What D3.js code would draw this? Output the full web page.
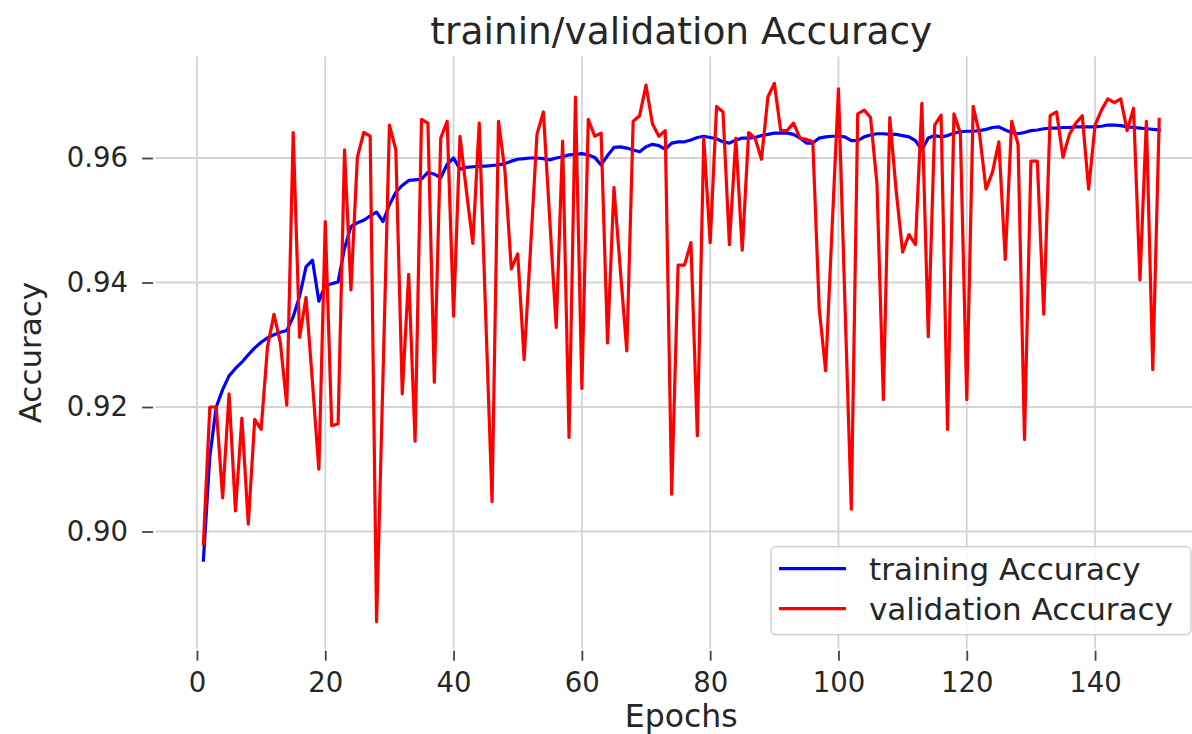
<!DOCTYPE html>
<html>
  <head>
    <meta charset="utf-8" />
    <title>trainin/validation Accuracy</title>
    <script src="https://d3js.org/d3.v7.min.js"></script>
    <style>

      body {
        margin: 0;
        background: #fff;
      }

      svg {
        display: block;
        font-family: "DejaVu Sans", sans-serif;
      }

    </style>
  </head>
  <body>

    <svg id="chart">
      <g id="grid"></g>
      <g id="lines"></g>
      <g id="x"></g>
      <g id="y"></g>
      <g id="legend"></g>
    </svg>

    <script>

      // accuracy per epoch (epochs 1..150)
      var trainAcc = [
        0.8954, 0.9120, 0.9200, 0.9228, 0.9250, 0.9262, 0.9272, 0.9284, 0.9295, 0.9304,
        0.9311, 0.9316, 0.9320, 0.9323, 0.9345, 0.9378, 0.9425, 0.9436, 0.9370, 0.9395,
        0.9398, 0.9401, 0.9455, 0.9490, 0.9496, 0.9500, 0.9507, 0.9513, 0.9498, 0.9525,
        0.9545, 0.9556, 0.9564, 0.9565, 0.9566, 0.9577, 0.9574, 0.9568, 0.9590, 0.9600,
        0.9582, 0.9585, 0.9586, 0.9587, 0.9587, 0.9588, 0.9589, 0.9591, 0.9595, 0.9598,
        0.9599, 0.9600, 0.9600, 0.9599, 0.9597, 0.9600, 0.9602, 0.9605, 0.9606, 0.9607,
        0.9605, 0.9601, 0.9589, 0.9604, 0.9617, 0.9618, 0.9616, 0.9613, 0.9610, 0.9618,
        0.9622, 0.9620, 0.9614, 0.9624, 0.9626, 0.9626, 0.9629, 0.9633, 0.9635, 0.9633,
        0.9631, 0.9626, 0.9624, 0.9629, 0.9632, 0.9632, 0.9633, 0.9636, 0.9638, 0.9640,
        0.9640, 0.9640, 0.9638, 0.9632, 0.9624, 0.9624, 0.9632, 0.9634, 0.9635, 0.9635,
        0.9634, 0.9628, 0.9628, 0.9634, 0.9637, 0.9639, 0.9639, 0.9638, 0.9638, 0.9636,
        0.9634, 0.9628, 0.9613, 0.9632, 0.9636, 0.9634, 0.9636, 0.9640, 0.9642, 0.9643,
        0.9643, 0.9644, 0.9646, 0.9649, 0.9650, 0.9645, 0.9641, 0.9639, 0.9641, 0.9644,
        0.9645, 0.9647, 0.9648, 0.9648, 0.9649, 0.9649, 0.9650, 0.9650, 0.9650, 0.9650,
        0.9651, 0.9653, 0.9653, 0.9652, 0.9650, 0.9649, 0.9648, 0.9647, 0.9646, 0.9645
      ];

      var valAcc = [
        0.8980, 0.9200, 0.9200, 0.9054, 0.9221, 0.9033, 0.9182, 0.9012, 0.9180, 0.9164,
        0.9297, 0.9349, 0.9303, 0.9203, 0.9641, 0.9312, 0.9376, 0.9240, 0.9100, 0.9498,
        0.9170, 0.9173, 0.9613, 0.9388, 0.9601, 0.9641, 0.9635, 0.8855, 0.9250, 0.9653,
        0.9613, 0.9221, 0.9413, 0.9145, 0.9662, 0.9656, 0.9240, 0.9632, 0.9659, 0.9346,
        0.9635, 0.9547, 0.9463, 0.9656, 0.9350, 0.9048, 0.9659, 0.9580, 0.9422, 0.9446,
        0.9276, 0.9455, 0.9638, 0.9674, 0.9500, 0.9328, 0.9627, 0.9151, 0.9698, 0.9230,
        0.9662, 0.9635, 0.9640, 0.9303, 0.9553, 0.9420, 0.9290, 0.9659, 0.9668, 0.9717,
        0.9655, 0.9635, 0.9644, 0.9060, 0.9428, 0.9428, 0.9464, 0.9154, 0.9632, 0.9464,
        0.9683, 0.9674, 0.9461, 0.9632, 0.9452, 0.9641, 0.9632, 0.9598, 0.9698, 0.9720,
        0.9644, 0.9644, 0.9656, 0.9632, 0.9630, 0.9626, 0.9358, 0.9258, 0.9486, 0.9711,
        0.9370, 0.9036, 0.9671, 0.9677, 0.9665, 0.9559, 0.9212, 0.9665, 0.9547, 0.9449,
        0.9477, 0.9461, 0.9688, 0.9313, 0.9653, 0.9669, 0.9164, 0.9671, 0.9640, 0.9212,
        0.9683, 0.9638, 0.9550, 0.9577, 0.9626, 0.9437, 0.9659, 0.9622, 0.9148, 0.9595,
        0.9595, 0.9349, 0.9668, 0.9674, 0.9601, 0.9638, 0.9656, 0.9668, 0.9550, 0.9653,
        0.9677, 0.9695, 0.9689, 0.9695, 0.9644, 0.9680, 0.9404, 0.9659, 0.9260, 0.9662
      ];

      var epochs = d3.range(1, trainAcc.length + 1);
      var xTicks = [0, 20, 40, 60, 80, 100, 120, 140];
      var yTicks = [0.90, 0.92, 0.94, 0.96];
      var seriesNames = ["training Accuracy", "validation Accuracy"];
      var seriesColors = ["#0000ff", "#ff0000"];

      var width = 1192;
      var height = 734;
      // the right edge of the axes sits a bit past the picture, like the original crop
      var margin = {
        top: 56.4,
        right: -15,
        bottom: 85.3,
        left: 155.6
      };
      var chartWidth = width - margin.left - margin.right;
      var chartHeight = height - margin.top - margin.bottom;
      var textColor = "#262626";

      var svg = d3.select("#chart")
        .attr("width", width)
        .attr("height", height);

      // matplotlib style 5% padding round the data
      var xMin = d3.min(epochs), xMax = d3.max(epochs);
      var xPad = (xMax - xMin) * 0.05;
      var x = d3.scaleLinear()
        .domain([xMin - xPad, xMax + xPad])
        .range([margin.left, margin.left + chartWidth]);

      var yMin = d3.min(trainAcc.concat(valAcc));
      var yMax = d3.max(trainAcc.concat(valAcc));
      var yPad = (yMax - yMin) * 0.05;
      var y = d3.scaleLinear()
        .domain([yMin - yPad, yMax + yPad])
        .range([margin.top + chartHeight, margin.top]);

      // grid
      var grid = svg.select("#grid");
      grid.selectAll(".vgrid")
        .data(xTicks)
        .enter().append("line")
        .attr("class", "vgrid")
        .attr("x1", function(d) { return x(d); })
        .attr("x2", function(d) { return x(d); })
        .attr("y1", margin.top)
        .attr("y2", margin.top + chartHeight)
        .attr("stroke", "#d4d4d4")
        .attr("stroke-width", 1.8);

      grid.selectAll(".hgrid")
        .data(yTicks)
        .enter().append("line")
        .attr("class", "hgrid")
        .attr("x1", margin.left)
        .attr("x2", margin.left + chartWidth)
        .attr("y1", function(d) { return y(d); })
        .attr("y2", function(d) { return y(d); })
        .attr("stroke", "#d4d4d4")
        .attr("stroke-width", 1.8);

      // axes (no spines, just ticks and labels)
      var xAxis = d3.axisBottom(x)
        .tickValues(xTicks)
        .tickFormat(d3.format("d"))
        .tickSize(10)
        .tickPadding(12);
      svg.select("#x")
        .attr("transform", "translate(0, " + (margin.top + chartHeight + 2) + ")")
        .call(xAxis);

      var yAxis = d3.axisLeft(y)
        .tickValues(yTicks)
        .tickFormat(d3.format(".2f"))
        .tickSize(11)
        .tickPadding(14);
      svg.select("#y")
        .attr("transform", "translate(" + (margin.left - 2.5) + ", 0)")
        .call(yAxis);

      svg.selectAll("#x .domain, #y .domain").remove();
      svg.selectAll("#x .tick line, #y .tick line")
        .attr("stroke", "#444")
        .attr("stroke-width", 1.8);
      svg.selectAll("#x .tick text, #y .tick text")
        .attr("fill", textColor)
        .style("font-family", "DejaVu Sans")
        .style("font-size", "27.5px");

      // lines
      var line = d3.line()
        .x(function(d) { return x(d.epoch); })
        .y(function(d) { return y(d.value); });

      var series = [trainAcc, valAcc].map(function(values, i) {
        return {
          name: seriesNames[i],
          color: seriesColors[i],
          points: values.map(function(v, j) {
            return { epoch: epochs[j], value: v };
          })
        };
      });

      svg.select("#lines").selectAll("path")
        .data(series)
        .enter().append("path")
        .attr("d", function(d) { return line(d.points); })
        .attr("fill", "none")
        .attr("stroke", function(d) { return d.color; })
        .attr("stroke-width", 3.2)
        .attr("stroke-linejoin", "round")
        .attr("stroke-linecap", "square");

      // titles
      var centerX = margin.left + chartWidth / 2;
      svg.append("text")
        .attr("x", centerX)
        .attr("y", 44)
        .attr("text-anchor", "middle")
        .attr("fill", textColor)
        .style("font-size", "37.5px")
        .text("trainin/validation Accuracy");

      svg.append("text")
        .attr("x", centerX)
        .attr("y", 727)
        .attr("text-anchor", "middle")
        .attr("fill", textColor)
        .style("font-size", "31.5px")
        .text("Epochs");

      svg.append("text")
        .attr("transform", "translate(41, " + (margin.top + chartHeight / 2) + ") rotate(-90)")
        .attr("text-anchor", "middle")
        .attr("fill", textColor)
        .style("font-size", "31px")
        .text("Accuracy");

      // legend, lower right inside the axes
      var legendFont = 31;
      var legendW = 420;
      var legendH = 88;
      var legendX = margin.left + chartWidth - 16 - legendW;
      var legendY = margin.top + chartHeight - 14 - legendH;

      var legend = svg.select("#legend")
        .attr("transform", "translate(" + legendX + ", " + legendY + ")");

      legend.append("rect")
        .attr("width", legendW)
        .attr("height", legendH)
        .attr("rx", 5)
        .attr("fill", "#fff")
        .attr("fill-opacity", 0.85)
        .attr("stroke", "#cccccc")
        .attr("stroke-width", 1.3);

      var entries = legend.selectAll(".entry")
        .data(series)
        .enter().append("g")
        .attr("class", "entry")
        .attr("transform", function(d, i) {
          return "translate(0, " + (22 + i * 40) + ")";
        });

      entries.append("line")
        .attr("x1", 8)
        .attr("x2", 75)
        .attr("stroke", function(d) { return d.color; })
        .attr("stroke-width", 3.2);

      entries.append("text")
        .attr("x", 98)
        .attr("y", 11)
        .attr("fill", textColor)
        .style("font-size", legendFont + "px")
        .text(function(d) { return d.name; });

    </script>
  </body>
</html>
